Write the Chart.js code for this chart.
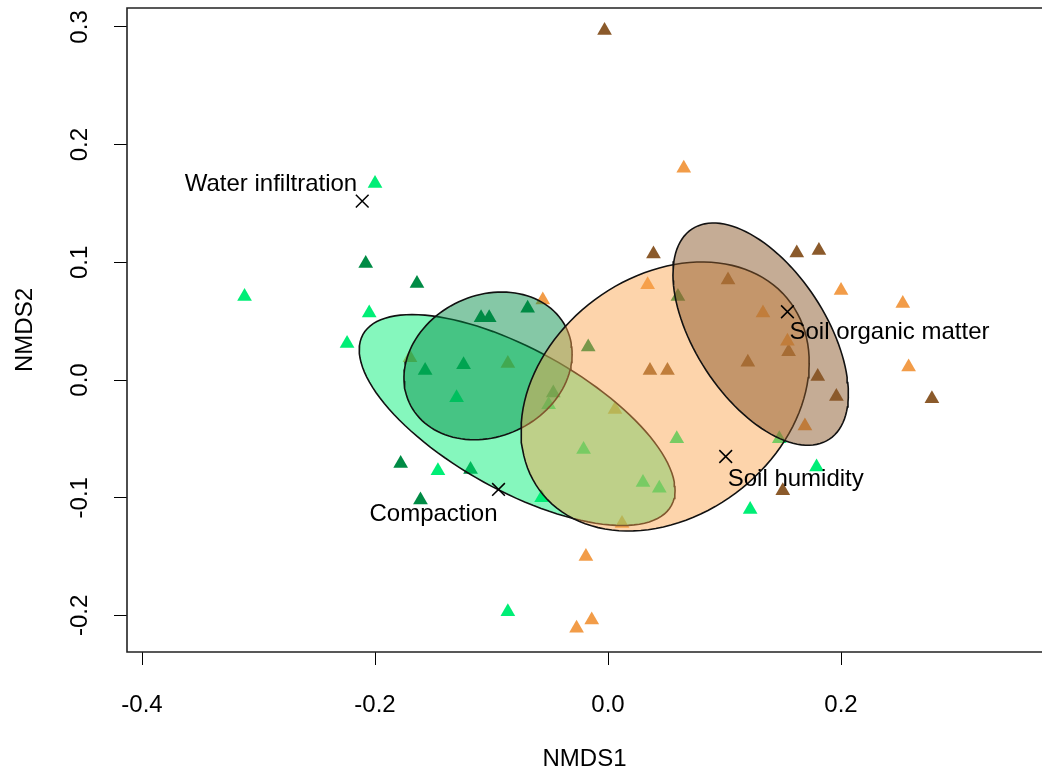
<!DOCTYPE html>
<html><head><meta charset="utf-8">
<script src="https://cdn.jsdelivr.net/npm/chart.js@4.4.0/dist/chart.umd.min.js"></script>
<style>html,body{margin:0;padding:0;background:#fff;overflow:hidden}canvas{display:block}</style>
</head><body>
<canvas id="c" width="1042" height="777"></canvas>
<script>
// ---- tick labels / axis ----
const xTicks = [-0.4, -0.2, 0.0, 0.2];
const yTicks = [-0.2, -0.1, 0.0, 0.1, 0.2, 0.3];
const xTitle = 'NMDS1';
const yTitle = 'NMDS2';

// ---- site scores (NMDS1, NMDS2) by group ----
const groupBrightGreen = [
  [-0.200, 0.167], [-0.312, 0.071], [-0.205, 0.057], [-0.224, 0.031],
  [-0.146, -0.077], [-0.086, -0.197], [0.122, -0.110], [0.179, -0.074],
  [-0.130, -0.015], [-0.021, -0.059], [0.030, -0.087], [0.044, -0.092],
  [0.059, -0.050], [0.147, -0.050], [-0.057, -0.100], [-0.051, -0.021]
];
const groupDarkGreen = [
  [-0.208, 0.099], [-0.164, 0.082], [-0.109, 0.053], [-0.102, 0.053],
  [-0.069, 0.061], [-0.157, 0.008], [-0.124, 0.013], [-0.178, -0.071],
  [-0.118, -0.076], [-0.161, -0.102], [-0.017, 0.028], [0.060, 0.071],
  [-0.047, -0.011]
];
const groupOrange = [
  [0.065, 0.180], [0.034, 0.081], [-0.056, 0.068], [-0.086, 0.014],
  [-0.170, 0.019], [0.006, -0.025], [0.012, -0.122], [-0.019, -0.150],
  [-0.027, -0.211], [-0.014, -0.204], [0.133, 0.057], [0.154, 0.033],
  [0.200, 0.076], [0.253, 0.065], [0.258, 0.011], [0.169, -0.039]
];
const groupBrown = [
  [-0.003, 0.297], [0.039, 0.107], [0.103, 0.085], [0.162, 0.108],
  [0.181, 0.110], [0.036, 0.008], [0.051, 0.008], [0.120, 0.015],
  [0.155, 0.024], [0.180, 0.003], [0.196, -0.014], [0.278, -0.016],
  [0.150, -0.094]
];

// ---- group ellipses: centre, semi-axes, rotation (deg) ----
const ellipseCX = [-0.078, -0.103, 0.049, 0.131];
const ellipseCY = [-0.034, 0.012, -0.014, 0.039];
const ellipseA = [0.151, 0.0745, 0.134, 0.107];
const ellipseB = [0.060, 0.060, 0.102, 0.056];
const ellipseAngle = [-28.7, 24.7, 36.4, -56.5];

// ---- environmental variables ----
const envLabels = ['Water infiltration', 'Compaction', 'Soil humidity', 'Soil organic matter'];
const envX = [-0.211, -0.094, 0.101, 0.154];
const envY = [0.152, -0.093, -0.065, 0.058];

// ---- styles ----
const pointColors = ['#00EE76', '#008B45', '#F29C48', '#8B5A2B'];
const ellipseFills = ['rgba(0,238,118,0.48)', 'rgba(0,139,69,0.48)', 'rgba(250,165,80,0.48)', 'rgba(139,90,43,0.5)'];
const labelStyle = [
  {align: 'right', dx: -5, dy: -17},
  {align: 'right', dx: -1, dy: 25},
  {align: 'left', dx: 2, dy: 23},
  {align: 'left', dx: 2, dy: 21}
];
const FONT = "'Liberation Sans', Arial, Helvetica, sans-serif";

function toXY(arr) { return arr.map(p => ({x: p[0], y: p[1]})); }
function ellipsePoly(i) {
  const pts = [];
  const phi = ellipseAngle[i] * Math.PI / 180;
  const n = 120;
  for (let k = 0; k <= n; k++) {
    const t = 2 * Math.PI * k / n;
    pts.push({
      x: ellipseCX[i] + ellipseA[i] * Math.cos(phi) * Math.cos(t) - ellipseB[i] * Math.sin(phi) * Math.sin(t),
      y: ellipseCY[i] + ellipseA[i] * Math.sin(phi) * Math.cos(t) + ellipseB[i] * Math.cos(phi) * Math.sin(t)
    });
  }
  return pts;
}

const groups = [groupBrightGreen, groupDarkGreen, groupOrange, groupBrown];
const datasets = [];
groups.forEach((g, i) => {
  datasets.push({
    data: toXY(g), pointStyle: 'triangle', pointRadius: 8.5,
    backgroundColor: pointColors[i], borderColor: pointColors[i], borderWidth: 0,
    showLine: false, order: 20
  });
});
groups.forEach((g, i) => {
  datasets.push({
    data: ellipsePoly(i), showLine: true, fill: 'shape', pointRadius: 0,
    borderColor: '#111', borderWidth: 1.6, backgroundColor: ellipseFills[i],
    tension: 0, order: 10 - i
  });
});
datasets.push({
  data: envX.map((x, i) => ({x: x, y: envY[i]})), pointStyle: 'crossRot', pointRadius: 9,
  borderColor: '#000', borderWidth: 1.5, backgroundColor: '#000', showLine: false, order: 1
});

const framePlugin = {
  id: 'frame',
  afterDatasetsDraw(chart) {
    const {ctx, chartArea: a, scales} = chart;
    ctx.save();
    ctx.strokeStyle = '#222';
    ctx.lineWidth = 1.6;
    ctx.beginPath();
    ctx.moveTo(a.right + 10, a.top);
    ctx.lineTo(a.left, a.top);
    ctx.lineTo(a.left, a.bottom);
    ctx.lineTo(a.right + 10, a.bottom);
    ctx.stroke();
    ctx.fillStyle = '#000';
    ctx.font = '24px ' + FONT;
    ctx.textBaseline = 'middle';
    envLabels.forEach((t, i) => {
      const px = scales.x.getPixelForValue(envX[i]);
      const py = scales.y.getPixelForValue(envY[i]);
      ctx.textAlign = labelStyle[i].align;
      ctx.fillText(t, px + labelStyle[i].dx, py + labelStyle[i].dy);
    });
    ctx.restore();
  }
};

function zeroPad(s) { s.paddingTop = 0; s.paddingBottom = 0; s.paddingLeft = 0; s.paddingRight = 0; }

new Chart(document.getElementById('c'), {
  type: 'scatter',
  data: {datasets},
  plugins: [framePlugin],
  options: {
    responsive: false, animation: false, devicePixelRatio: 1,
    layout: {autoPadding: false, padding: {top: 8, right: 0, bottom: 0, left: 0}},
    plugins: {legend: {display: false}, tooltip: {enabled: false}},
    scales: {
      x: {
        type: 'linear', min: -0.4129, max: 0.3725,
        afterBuildTicks: s => { s.ticks = xTicks.map(v => ({value: v})); },
        afterFit: s => { s.height = 125; zeroPad(s); },
        ticks: {callback: v => Number(v).toFixed(1), color: '#000', padding: 26, autoSkip: false, maxRotation: 0,
                font: {size: 24, family: FONT}},
        grid: {drawOnChartArea: false, drawTicks: true, tickLength: 13, color: '#000', lineWidth: 1},
        border: {display: false},
        title: {display: true, text: xTitle, color: '#000', font: {size: 24, family: FONT}, padding: {top: 0, bottom: 3}}
      },
      y: {
        type: 'linear', min: -0.2311, max: 0.3161,
        afterBuildTicks: s => { s.ticks = yTicks.map(v => ({value: v})); },
        afterFit: s => { s.width = 127; zeroPad(s); },
        ticks: {callback: v => Number(v).toFixed(1), color: '#000', padding: 13, autoSkip: false,
                minRotation: 90, maxRotation: 90, crossAlign: 'center', font: {size: 24, family: FONT}},
        grid: {drawOnChartArea: false, drawTicks: true, tickLength: 13, color: '#000', lineWidth: 1},
        border: {display: false},
        title: {display: true, text: yTitle, color: '#000', font: {size: 24, family: FONT}, padding: {top: 11, bottom: 0}}
      }
    }
  }
});
</script>
</body></html>
